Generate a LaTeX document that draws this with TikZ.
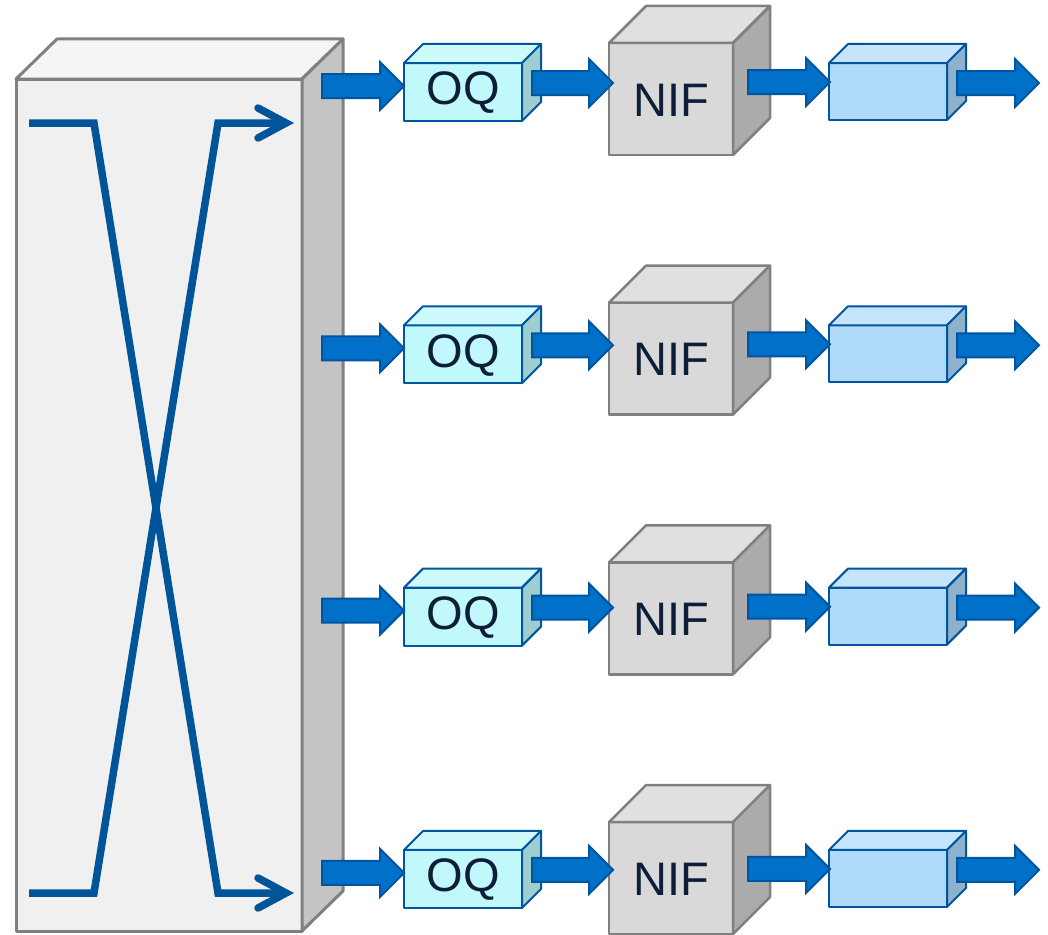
\documentclass[tikz,border=0pt]{standalone}
\usepackage{fontspec}
\setmainfont{Liberation Sans}
\usetikzlibrary{calc}
\definecolor{xline}{RGB}{0,84,153}
\definecolor{fatfill}{RGB}{0,112,200}
\definecolor{fatedge}{RGB}{0,85,160}
\definecolor{oqfront}{RGB}{192,248,252}
\definecolor{oqtop}{RGB}{206,250,252}
\definecolor{oqside}{RGB}{158,206,208}
\definecolor{bbfront}{RGB}{176,218,250}
\definecolor{bbtop}{RGB}{198,228,252}
\definecolor{bbside}{RGB}{142,178,206}
\definecolor{niffront}{RGB}{217,217,217}
\definecolor{niftop}{RGB}{224,224,224}
\definecolor{nifside}{RGB}{171,171,171}
\definecolor{grayedge}{RGB}{128,128,128}
\definecolor{txt}{RGB}{12,30,56}
\tikzset{
  fat/.style={fill=fatfill,draw=fatedge,line width=2pt,line join=miter},
  oqface/.style={draw=fatedge,line width=2pt,line join=round},
  nifface/.style={draw=grayedge,line width=2.5pt,line join=round},
  bigface/.style={draw=grayedge,line width=3pt,line join=round},
  xpath/.style={draw=xline,line width=7.5pt,line join=miter,line cap=butt},
  chev/.style={draw=xline,line width=7.5pt,line join=miter,line cap=round},
  lbl/.style={font=\fontsize{47}{47}\selectfont,text=txt,inner sep=0pt,outer sep=0pt},
}
\newcommand\fatarr[2]{\path[fat] let \p1=#1, \p2=#2 in
  (\x1,\y1+12pt) -- (\x2-24pt,\y1+12pt) -- (\x2-24pt,\y1+24pt) -- (\x2,\y1)
  -- (\x2-24pt,\y1-24pt) -- (\x2-24pt,\y1-12pt) -- (\x1,\y1-12pt) -- cycle;}
\begin{document}
\begin{tikzpicture}[x=1pt,y=-1pt]
\useasboundingbox (0,0) rectangle (1048,934);
% big switch box
\node[fill=black!6,bigface,minimum width=286,minimum height=852,outer sep=0pt,inner sep=0pt,anchor=north west] (sw) at (16,79) {};
\path[bigface,fill=black!4] (sw.north west) -- ++(41,-40) -- ++(286,0) -- (sw.north east) -- cycle;
\path[bigface,fill=black!23] (sw.north east) -- ++(41,-40) -- ++(0,852) -- (sw.south east) -- cycle;
% crossing paths
\coordinate (a1) at (29,123); \coordinate (a2) at (94,123);
\coordinate (a3) at (218,893); \coordinate (a4) at (284,893);
\coordinate (b1) at (29,893); \coordinate (b2) at (94,893);
\coordinate (b3) at (218,123); \coordinate (b4) at (284,123);
\path[xpath] (a1) -- (a2) -- (a3) -- (a4);
\path[xpath] (b1) -- (b2) -- (b3) -- (b4);
\path[chev] ($(a4)+(-26,-15)$) -- ($(a4)+(2,0)$) -- ($(a4)+(-26,15)$);
\path[chev] ($(b4)+(-26,-15)$) -- ($(b4)+(2,0)$) -- ($(b4)+(-26,15)$);
\foreach \i in {0,1,2,3}{
  \pgfmathsetmacro\dy{262.3*\i}
  \pgfmathsetmacro\dn{259.7*\i}
  % OQ box
  \node[oqface,fill=oqfront,minimum width=118,minimum height=58,outer sep=0pt,inner sep=0pt,anchor=north west] (oq\i) at (404,63+\dy) {};
  \path[oqface,fill=oqtop] (oq\i.north west) -- ++(19,-19) -- ++(118,0) -- (oq\i.north east) -- cycle;
  \path[oqface,fill=oqside] (oq\i.north east) -- ++(19,-19) -- ++(0,58) -- (oq\i.south east) -- cycle;
  \node[lbl] (oqt\i) at (463,93+\dy) {OQ};
  % NIF cube
  \node[nifface,fill=niffront,minimum width=124,minimum height=112,outer sep=0pt,inner sep=0pt,anchor=north west] (nif\i) at (609,43+\dn) {};
  \path[nifface,fill=niftop] (nif\i.north west) -- ++(37,-37) -- ++(124,0) -- (nif\i.north east) -- cycle;
  \path[nifface,fill=nifside] (nif\i.north east) -- ++(37,-37) -- ++(0,112) -- (nif\i.south east) -- cycle;
  \node[lbl] (nift\i) at (671,100+\dn) {NIF};
  % output buffer box
  \node[oqface,fill=bbfront,minimum width=118,minimum height=57,outer sep=0pt,inner sep=0pt,anchor=north west] (bb\i) at (829,63+\dy) {};
  \path[oqface,fill=bbtop] (bb\i.north west) -- ++(19,-19) -- ++(118,0) -- (bb\i.north east) -- cycle;
  \path[oqface,fill=bbside] (bb\i.north east) -- ++(19,-19) -- ++(0,57) -- (bb\i.south east) -- cycle;
  % fat arrows
  \coordinate (s1\i) at (322,86+\dy); \coordinate (e1\i) at (404,86+\dy);
  \coordinate (s2\i) at (532,83+\dy); \coordinate (e2\i) at (613,83+\dy);
  \coordinate (s3\i) at (748,82+\dy); \coordinate (e3\i) at (830,82+\dy);
  \coordinate (s4\i) at (957,83+\dy); \coordinate (e4\i) at (1039,83+\dy);
  \fatarr{(s1\i)}{(e1\i)}
  \fatarr{(s2\i)}{(e2\i)}
  \fatarr{(s3\i)}{(e3\i)}
  \fatarr{(s4\i)}{(e4\i)}
}
\end{tikzpicture}
\end{document}
